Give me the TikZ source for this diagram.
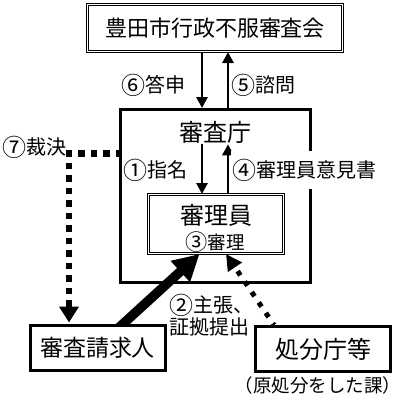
\documentclass[tikz,border=0pt]{standalone}
\usepackage{fontspec}
\setmainfont{Noto Sans CJK JP}
\usetikzlibrary{arrows.meta,calc,backgrounds}
\newcommand\cdig[1]{\raisebox{-0.07em}{\scalebox{1.2}{#1}}}
\begin{document}
\begin{tikzpicture}[x=1pt,y=-1pt,
  box/.style={draw,line width=3pt,inner sep=0pt},
  dbox/.style={draw,line width=1pt,double,double distance=1.2pt,inner sep=0pt},
  lbl/.style={inner sep=0pt,font=\fontsize{20}{22}\selectfont},
  arr/.style={line width=2.8pt,-{Triangle[width=11pt,length=11pt]}},
  dotseven/.style={line width=6.5pt,dash pattern=on 6.5pt off 6pt},
  dottwo/.style={line width=5pt,dash pattern=on 5pt off 7.6pt,dash phase=3pt,
    -{Triangle[width=16pt,length=16pt]}},
  thick2/.style={line width=9.5pt,-{Triangle[width=27pt,length=26pt]}}
]
\useasboundingbox (0,0) rectangle (402,400);

% nodes
\node[dbox,minimum width=255pt,minimum height=47pt,font=\fontsize{22}{22}\selectfont] (top) at (215,28) {豊田市行政不服審査会};
\node[box,minimum width=190pt,minimum height=173pt] (shinsa) at (215.5,196) {};
\node[inner sep=1pt,font=\fontsize{24}{24}\selectfont] (shinsat) at (215,132) {審査庁};
\node[dbox,minimum width=135pt,minimum height=59pt] (shinri) at (216,224) {};
\node[inner sep=0pt,font=\fontsize{24}{24}\selectfont] (shinrit) at (216,215) {審理員};
\node[inner sep=0pt,font=\fontsize{18.5}{18.5}\selectfont] (shinri3) at (215,242) {\cdig{③}審理};
\node[box,fill=white,minimum width=135pt,minimum height=45pt,font=\fontsize{23}{23}\selectfont] (seikyu) at (97.5,348) {審査請求人};
\node[box,fill=white,minimum width=135pt,minimum height=45pt,font=\fontsize{24}{24}\selectfont] (shobun) at (323,349) {処分庁等};
\node[inner sep=0pt,font=\fontsize{18.5}{18.5}\selectfont] (gen) at (318,385) {\kern-0.45em（原処分をした課）\kern-0.45em};

% labels
\node[lbl,anchor=east] (l6) at (186,85) {\cdig{⑥}答申};
\node[lbl,anchor=west] (l5) at (231,85) {\cdig{⑤}諮問};
\node[lbl,anchor=east] (l1) at (188,170) {\cdig{①}指名};
\node[lbl,anchor=west,fill=white,inner ysep=8pt,inner xsep=1pt] (l4) at (231,170) {\cdig{④}審理員意見書};
\node[lbl,anchor=west] (l7) at (2,147) {\cdig{⑦}裁決};
\node[lbl,anchor=west,align=left] (l2) at (169,315) {\cdig{②}主張、\\証拠提出};

% coordinates
\coordinate (xa) at (202,0);
\coordinate (xb) at (228,0);
\coordinate (k0) at (65.75,153.3);
\coordinate (k2) at (69,150);
\coordinate (s2) at (118.5,328);
\coordinate (x2) at (199.5,0);
\coordinate (s3) at (274,0);
\coordinate (x3) at (226,0);

\begin{pgfonlayer}{background}
\draw[arr] (top.south -| xa) -- (shinsa.north -| xa);
\draw[arr] (shinsa.north -| xb) -- (top.south -| xb);
\draw[arr] (shinsat.south -| xa) -- (shinri.north -| xa);
\draw[arr] (shinri.north -| xb) -- (shinsat.south -| xb);
\draw[dotseven] (k0) -- (shinsa.west |- k0);
\draw[dotseven,-{Triangle[width=19pt,length=16pt]},shorten >=1.5pt] (k2) -- (seikyu.north -| k2);
\draw[thick2] (s2) -- (shinri.south -| x2);
\draw[dottwo] (shobun.north -| s3) -- (shinri.south -| x3);
\end{pgfonlayer}
\end{tikzpicture}
\end{document}
